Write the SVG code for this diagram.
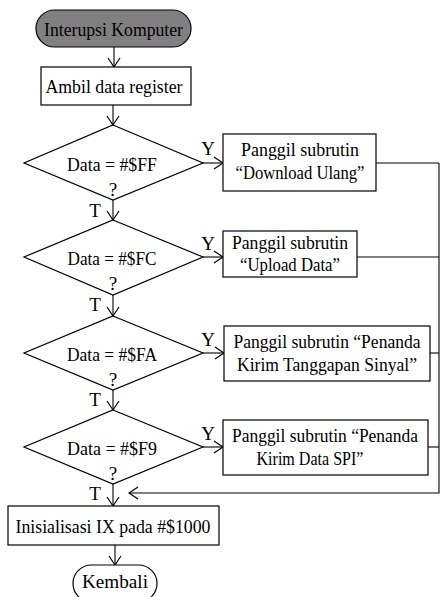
<svg xmlns="http://www.w3.org/2000/svg" width="440" height="597" viewBox="0 0 440 597" font-family="'Liberation Serif', 'Times New Roman', 'DejaVu Serif', serif">
  <defs>
    <marker id="arr" markerUnits="userSpaceOnUse" viewBox="-10 -7 12 14" refX="0" refY="0" markerWidth="12" markerHeight="14" orient="auto">
      <path d="M-9,-6 L0,0 L-9,6" fill="none" stroke="#000" stroke-width="1.2"/>
    </marker>
    <style>
      .shape { fill: #fff; stroke: #000; stroke-width: 1.2; }
      .term { fill: #808080; stroke: #000; stroke-width: 1.2; }
      .line { fill: none; stroke: #000; stroke-width: 1.1; }
      .arrow { fill: none; stroke: #000; stroke-width: 1.1; marker-end: url(#arr); }
      .lbl { font-family: 'Liberation Serif', 'Times New Roman', serif; font-size: 19px; fill: #000; text-anchor: middle; }
    </style>
  </defs>
  <rect width="440" height="597" fill="#fff"/>

  <!-- connectors -->
  <g id="connectors">
    <line class="arrow" x1="114" y1="47" x2="114" y2="67"/>
    <line class="arrow" x1="113" y1="105" x2="113" y2="125"/>
    <line class="arrow" x1="203" y1="163" x2="223" y2="163"/>
    <line class="arrow" x1="113" y1="200" x2="113" y2="220"/>
    <line class="arrow" x1="203" y1="257" x2="223" y2="257"/>
    <line class="arrow" x1="113" y1="295" x2="113" y2="316"/>
    <line class="arrow" x1="203" y1="353" x2="224" y2="353"/>
    <line class="arrow" x1="113" y1="390" x2="113" y2="410"/>
    <line class="arrow" x1="203" y1="447" x2="223" y2="447"/>
    <line class="arrow" x1="113" y1="484" x2="113" y2="506"/>
    <line class="arrow" x1="115" y1="545" x2="115" y2="565"/>
    <!-- subroutine returns merge on the right and loop back -->
    <line class="line" x1="376" y1="163" x2="439" y2="163"/>
    <line class="line" x1="357" y1="257" x2="439" y2="257"/>
    <line class="line" x1="430" y1="353" x2="439" y2="353"/>
    <line class="line" x1="428" y1="447" x2="439" y2="447"/>
    <polyline class="arrow" points="439,163 439,493 129,493"/>
  </g>

  <g id="start">
    <rect class="term" x="36" y="10" width="155" height="37" rx="18.5"/>
    <text class="lbl" x="113.5" y="36" textLength="139" lengthAdjust="spacingAndGlyphs">Interupsi Komputer</text>
  </g>

  <g id="read-register">
    <rect class="shape" x="41" y="67" width="150" height="38"/>
    <text class="lbl" x="114" y="93" textLength="137" lengthAdjust="spacingAndGlyphs">Ambil data register</text>
  </g>

  <g id="check-ff">
    <polygon class="shape" points="113,125 203,163 113,200 24,163"/>
    <text class="lbl" x="112" y="171" textLength="90" lengthAdjust="spacingAndGlyphs">Data = #$FF</text>
    <text class="lbl" x="113" y="196">?</text>
    <text class="lbl" x="208" y="155">Y</text>
    <text class="lbl" x="95" y="217">T</text>
  </g>
  <g id="call-download">
    <rect class="shape" x="223" y="134" width="153" height="57"/>
    <text class="lbl" x="300" y="156" textLength="118" lengthAdjust="spacingAndGlyphs">Panggil subrutin</text>
    <text class="lbl" x="300" y="179" textLength="129" lengthAdjust="spacingAndGlyphs">“Download Ulang”</text>
  </g>

  <g id="check-fc">
    <polygon class="shape" points="113,220 203,257 113,295 24,257"/>
    <text class="lbl" x="112" y="265" textLength="89" lengthAdjust="spacingAndGlyphs">Data = #$FC</text>
    <text class="lbl" x="113" y="290">?</text>
    <text class="lbl" x="208" y="250">Y</text>
    <text class="lbl" x="95" y="311">T</text>
  </g>
  <g id="call-upload">
    <rect class="shape" x="223" y="231" width="134" height="46"/>
    <text class="lbl" x="290" y="249" textLength="116" lengthAdjust="spacingAndGlyphs">Panggil subrutin</text>
    <text class="lbl" x="290" y="271" textLength="100" lengthAdjust="spacingAndGlyphs">“Upload Data”</text>
  </g>

  <g id="check-fa">
    <polygon class="shape" points="113,316 203,353 113,390 24,353"/>
    <text class="lbl" x="112" y="361" textLength="90" lengthAdjust="spacingAndGlyphs">Data = #$FA</text>
    <text class="lbl" x="113" y="386">?</text>
    <text class="lbl" x="208" y="346">Y</text>
    <text class="lbl" x="95" y="406">T</text>
  </g>
  <g id="call-signal">
    <rect class="shape" x="224" y="326" width="206" height="55"/>
    <text class="lbl" x="327" y="348" textLength="187" lengthAdjust="spacingAndGlyphs">Panggil subrutin “Penanda</text>
    <text class="lbl" x="327" y="371" textLength="180" lengthAdjust="spacingAndGlyphs">Kirim Tanggapan Sinyal”</text>
  </g>

  <g id="check-f9">
    <polygon class="shape" points="113,410 203,447 113,484 24,447"/>
    <text class="lbl" x="112" y="455" textLength="90" lengthAdjust="spacingAndGlyphs">Data = #$F9</text>
    <text class="lbl" x="113" y="480">?</text>
    <text class="lbl" x="208" y="440">Y</text>
    <text class="lbl" x="95" y="500">T</text>
  </g>
  <g id="call-spi">
    <rect class="shape" x="223" y="420" width="205" height="55"/>
    <text class="lbl" x="325" y="442" textLength="186" lengthAdjust="spacingAndGlyphs">Panggil subrutin “Penanda</text>
    <text class="lbl" x="310" y="465" textLength="107" lengthAdjust="spacingAndGlyphs">Kirim Data SPI”</text>
  </g>

  <g id="init-ix">
    <rect class="shape" x="8" y="506" width="211" height="39"/>
    <text class="lbl" x="113" y="533" textLength="195" lengthAdjust="spacingAndGlyphs">Inisialisasi IX pada #$1000</text>
  </g>

  <g id="return">
    <rect class="shape" x="73" y="565" width="84" height="37" rx="18.5"/>
    <text class="lbl" x="115" y="588" textLength="66" lengthAdjust="spacingAndGlyphs">Kembali</text>
  </g>
</svg>
